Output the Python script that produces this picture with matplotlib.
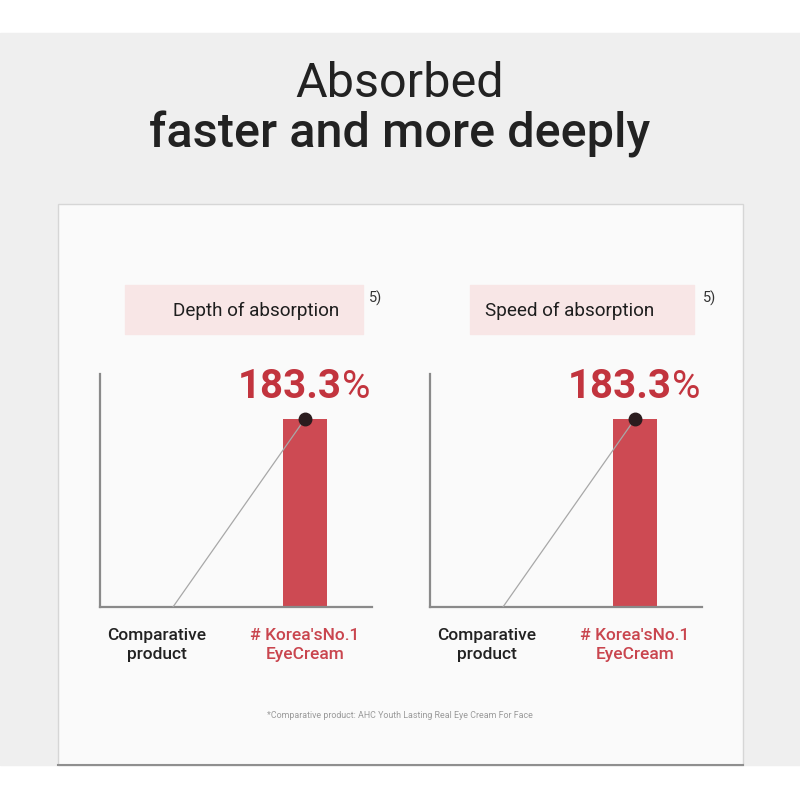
import matplotlib
matplotlib.use("Agg")
import matplotlib.pyplot as plt
from matplotlib.patches import Rectangle

plt.rcParams['font.family'] = ['Roboto', 'DejaVu Sans']

# chart data
panels = ["Depth of absorption", "Speed of absorption"]
categories = ["Comparative\nproduct", "# Korea'sNo.1\nEyeCream"]
values = [183.3, 183.3]          # highlighted product, % of comparative
value_labels = ["183.3", "183.3"]
footnote_ref = "5)"
footnote = "*Comparative product: AHC Youth Lasting Real Eye Cream For Face"

BG = "#efefef"
PANEL = "#fafafa"
PINK = "#f8e6e6"
BAR = "#cd4a53"
RED_TXT = "#c2343e"
LABEL_RED = "#c9454e"
AXIS = "#8a8a8a"

fig = plt.figure(figsize=(8, 8), dpi=100)
fig.patch.set_facecolor("white")

# background layer in pixel coordinates
bg = fig.add_axes([0, 0, 1, 1])
bg.set_xlim(0, 800)
bg.set_ylim(800, 0)
bg.axis("off")
bg.add_patch(Rectangle((0, 33), 800, 732, color=BG, zorder=0))
bg.add_patch(Rectangle((58, 204), 685, 561, facecolor=PANEL, edgecolor="#d6d6d6", lw=1, zorder=1))
bg.plot([58, 743], [765, 765], color="#8f8f8f", lw=1.5, zorder=2)

bg.text(400, 97, "Absorbed", ha="center", va="baseline", fontsize=35,
        fontweight="normal", color="#222222")
bg.text(400, 148, "faster and more deeply", ha="center", va="baseline", fontsize=35,
        fontweight="medium", color="#222222")
bg.text(400, 716, footnote, ha="center", va="center", fontsize=6.4,
        color="#9a9a9a")

offsets = [0, 330]
for i, (title, val, vlab) in enumerate(zip(panels, values, value_labels)):
    dx = offsets[i]
    # header box
    bx0 = 125 + dx * 1.045
    bg.add_patch(Rectangle((bx0, 285), 224 if i else 238, 49, color=PINK, zorder=2))
    bg.text(bx0 + (100 if i else 131), 311, title, ha="center", va="center",
            fontsize=13.6, color="#1e1e1e", zorder=3)
    bg.text(bx0 + (233 if i else 244), 298, footnote_ref, ha="left", va="center",
            fontsize=10.5, color="#333333", zorder=3)

    # chart axes (pixel box: x 100..372, y 374..607)
    left = (100 + dx) / 800
    ax = fig.add_axes([left, (800 - 607) / 800, 272 / 800, 233 / 800])
    ax.set_facecolor("none")
    ax.set_xlim(-0.385, 1.453)
    ax.set_ylim(0, 227)
    for s in ["top", "right"]:
        ax.spines[s].set_visible(False)
    for s in ["left", "bottom"]:
        ax.spines[s].set_color(AXIS)
        ax.spines[s].set_linewidth(1.6)
    ax.set_xticks([])
    ax.set_yticks([])

    ax.bar([1], [val], width=0.30, color=BAR, zorder=2)
    ax.plot([0.108, 1], [0, val], color="#a8a8a8", lw=0.9, zorder=3)
    ax.plot([1], [val], "o", color="#2a1c1e", ms=9, zorder=4, clip_on=False)

    ax.text(1.25, val + 20, vlab, ha="right", va="baseline", fontsize=29,
            fontweight="bold", color=RED_TXT)
    ax.text(1.25, val + 20, "%", ha="left", va="baseline", fontsize=28,
            fontweight="normal", color=RED_TXT)

    for j, cat in enumerate(categories):
        ax.text(j, -20, cat, ha="center", va="top", fontsize=12.5,
                fontweight="medium", linespacing=1.35,
                color="#222222" if j == 0 else LABEL_RED,
                transform=ax.transData, clip_on=False)

fig.savefig("out.png", dpi=100)
